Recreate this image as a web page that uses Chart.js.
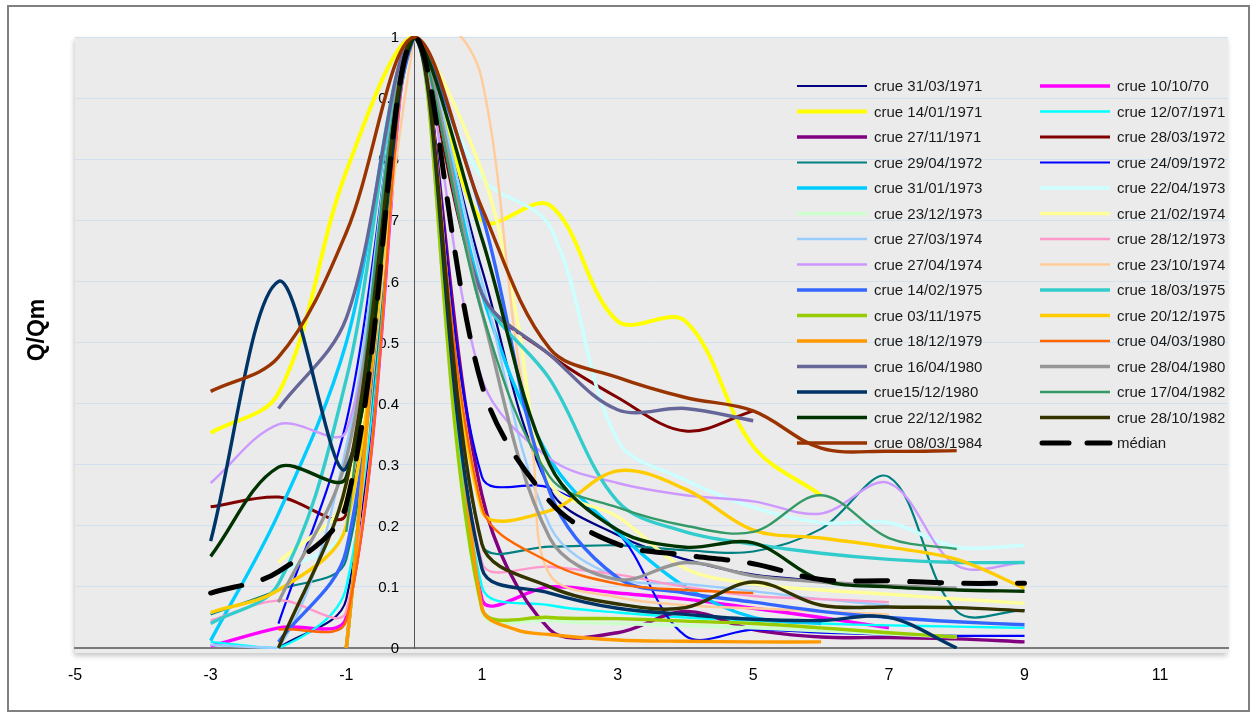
<!DOCTYPE html>
<html>
<head>
<meta charset="utf-8">
<title>Q/Qm</title>
<script src="https://cdn.jsdelivr.net/npm/chart.js@4.4.1/dist/chart.umd.min.js"></script>
<style>
  html, body { margin: 0; padding: 0; background: #ffffff; }
  #wrap { width: 1257px; height: 718px; position: relative; }
  canvas { display: block; }
</style>
</head>
<body>
<div id="wrap"><canvas id="chart" width="1257" height="718"></canvas></div>
<script>
// Axis ticks
const xTicks = [-5, -3, -1, 1, 3, 5, 7, 9, 11];
const xTickLabels = ['-5', '-3', '-1', '1', '3', '5', '7', '9', '11'];
const yTicks = [0, 0.1, 0.2, 0.3, 0.4, 0.5, 0.6, 0.7, 0.8, 0.9, 1];
const yTickLabels = ['0', '0.1', '0.2', '0.3', '0.4', '0.5', '0.6', '0.7', '0.8', '0.9', '1'];

// Flood hydrographs, Q/Qm against time from the peak: [t, Q/Qm]
const crue_1971_03_31 = [[-2,0],[-1,0.08],[0,1],[1,0.62],[2,0.26],[3,0.185],[4,0.145],[5,0.12],[6,0.11]];
const crue_1970_10_10 = [[-3,0.003],[-2,0.033],[-1,0.05],[0,1],[1,0.08],[2,0.1],[3,0.09],[4,0.08],[5,0.065],[6,0.05],[7,0.033]];
const crue_1971_01_14 = [[-3,0.352],[-2,0.417],[-1,0.78],[0,1],[1,0.70],[2,0.725],[3,0.535],[4,0.535],[5,0.33],[6,0.25]];
const crue_1971_07_12 = [[-3,0.01],[-2,0.0],[-1,0.1],[0,1],[1,0.1],[2,0.07],[3,0.058],[4,0.05],[5,0.045],[6,0.04],[7,0.037],[8,0.035],[9,0.033]];
const crue_1971_11_27 = [[-1,0],[0,1],[1,0.25],[2,0.03],[3,0.025],[4,0.06],[5,0.03],[6,0.018],[7,0.017],[8,0.015],[9,0.01]];
const crue_1972_03_28 = [[-3,0.231],[-2,0.247],[-1,0.22],[0,1],[1,0.58],[2,0.48],[3,0.41],[4,0.355],[5,0.388]];
const crue_1972_04_29 = [[-3,0.055],[-2,0.095],[-1,0.145],[0,1],[1,0.17],[2,0.166],[3,0.168],[4,0.16],[5,0.158],[6,0.195],[7,0.28],[8,0.06],[9,0.062]];
const crue_1972_09_24 = [[-2,0.04],[-1,0.37],[0,1],[1,0.28],[2,0.262],[3,0.19],[4,0.02],[5,0.03],[6,0.025],[7,0.022],[8,0.02],[9,0.02]];
const crue_1973_01_31 = [[-3,0.012],[-2,0.22],[-1,0.5],[0,1],[1,0.58],[2,0.31],[3,0.19],[4,0.1],[5,0.05],[6,0.04]];
const crue_1973_04_22 = [[-2,0.12],[-1,0.2],[0,1],[1,0.77],[2,0.69],[3,0.34],[4,0.275],[5,0.23],[6,0.205],[7,0.205],[8,0.165],[9,0.168]];
const crue_1973_12_23 = [[-1,0],[0,1],[1,0.06],[2,0.045],[3,0.04],[4,0.037],[5,0.033],[6,0.028],[7,0.023],[8,0.018]];
const crue_1974_02_21 = [[-2,0.14],[-1,0.25],[0,1],[1,0.78],[1.5,0.55],[2,0.27],[3,0.215],[4,0.13],[5,0.105],[6,0.095],[7,0.088],[8,0.08],[9,0.073]];
const crue_1974_03_27 = [[-3,0.005],[-2,0.0],[-1,0.33],[0,1],[1,0.6],[2,0.2],[3,0.115],[4,0.105],[5,0.093],[6,0.08],[7,0.07]];
const crue_1973_12_28 = [[-3,0.045],[-2,0.078],[-1,0.06],[0,1],[1,0.14],[2,0.133],[3,0.12],[4,0.1],[5,0.085],[6,0.08],[7,0.075]];
const crue_1974_04_27 = [[-3,0.27],[-2,0.366],[-1,0.355],[0,1],[1,0.44],[2,0.31],[3,0.27],[4,0.25],[5,0.24],[6,0.22],[7,0.27],[8,0.135],[9,0.14]];
const crue_1974_10_23 = [[-1,0],[0,1],[0.5,1.02],[1,0.93],[1.5,0.5],[1.75,0.32],[2,0.12],[3,0.083],[4,0.07],[5,0.065],[6,0.06],[7,0.055]];
const crue_1975_02_14 = [[-2,0.01],[-1,0.16],[0,1],[1,0.71],[2,0.255],[3,0.115],[4,0.09],[5,0.075],[6,0.06],[7,0.05],[8,0.043],[9,0.038]];
const crue_1975_03_18 = [[-3,0.04],[-2,0.105],[-1,0.44],[0,1],[1,0.58],[2,0.44],[3,0.24],[4,0.19],[5,0.17],[6,0.155],[7,0.145],[8,0.14],[9,0.14]];
const crue_1975_11_03 = [[-1,0],[0,1],[1,0.065],[2,0.05],[3,0.048],[4,0.044],[5,0.04],[6,0.033],[7,0.025],[8,0.018]];
const crue_1975_12_20 = [[-3,0.058],[-2,0.095],[-1,0.2],[0,1],[1,0.225],[2,0.225],[3,0.29],[4,0.26],[5,0.193],[6,0.18],[7,0.165],[8,0.145],[9,0.098]];
const crue_1979_12_18 = [[-1,0],[0,1],[1,0.065],[1.5,0.03],[2,0.022],[3,0.013],[4,0.011],[5,0.01],[6,0.01]];
const crue_1980_03_04 = [[-2,0.03],[-1,0.045],[0,1],[1,0.23],[2,0.14],[3,0.105],[4,0.095],[5,0.09]];
const crue_1980_04_16 = [[-2,0.392],[-1,0.54],[0,1],[1,0.58],[2,0.48],[3,0.39],[4,0.392],[5,0.372]];
const crue_1980_04_28 = [[-2,0.075],[-1,0.31],[0,1],[1,0.55],[2,0.18],[3,0.112],[4,0.14],[5,0.118],[6,0.108],[7,0.102],[8,0.098]];
const crue_1980_12_15 = [[-3,0.175],[-2,0.6],[-1,0.295],[0,1],[1,0.13],[2,0.09],[3,0.065],[4,0.055],[5,0.047],[6,0.045],[7,0.05],[8,0]];
const crue_1982_04_17 = [[-1,0.19],[0,1],[1,0.55],[2,0.28],[3,0.23],[4,0.2],[5,0.19],[6,0.25],[7,0.18],[8,0.162]];
const crue_1982_12_22 = [[-3,0.15],[-2,0.296],[-1,0.28],[0,1],[1,0.67],[2,0.3],[3,0.193],[4,0.165],[5,0.172],[6,0.111],[7,0.1],[8,0.095],[9,0.093]];
const crue_1982_10_28 = [[-2,0],[-1,0.27],[0,1],[1,0.17],[2,0.1],[3,0.072],[4,0.066],[5,0.108],[6,0.07],[7,0.067],[8,0.066],[9,0.061]];
const crue_1984_03_08 = [[-3,0.42],[-2,0.476],[-1,0.68],[0,1],[1,0.72],[2,0.49],[3,0.443],[4,0.41],[5,0.388],[6,0.327],[7,0.322],[8,0.323]];
const median = [[-3,0.09],[-2,0.125],[-1,0.235],[0,1],[1,0.43],[2,0.24],[3,0.17],[4,0.152],[5,0.138],[6,0.112],[7,0.11],[8,0.106],[9,0.106]];

const seriesLabels = [
  'crue 31/03/1971', 'crue 10/10/70',
  'crue 14/01/1971', 'crue 12/07/1971',
  'crue 27/11/1971', 'crue 28/03/1972',
  'crue 29/04/1972', 'crue 24/09/1972',
  'crue 31/01/1973', 'crue 22/04/1973',
  'crue 23/12/1973', 'crue 21/02/1974',
  'crue 27/03/1974', 'crue 28/12/1973',
  'crue 27/04/1974', 'crue 23/10/1974',
  'crue 14/02/1975', 'crue 18/03/1975',
  'crue 03/11/1975', 'crue 20/12/1975',
  'crue 18/12/1979', 'crue 04/03/1980',
  'crue 16/04/1980', 'crue 28/04/1980',
  'crue15/12/1980', 'crue 17/04/1982',
  'crue 22/12/1982', 'crue 28/10/1982',
  'crue 08/03/1984', 'médian'
];
const seriesData = [
  crue_1971_03_31, crue_1970_10_10,
  crue_1971_01_14, crue_1971_07_12,
  crue_1971_11_27, crue_1972_03_28,
  crue_1972_04_29, crue_1972_09_24,
  crue_1973_01_31, crue_1973_04_22,
  crue_1973_12_23, crue_1974_02_21,
  crue_1974_03_27, crue_1973_12_28,
  crue_1974_04_27, crue_1974_10_23,
  crue_1975_02_14, crue_1975_03_18,
  crue_1975_11_03, crue_1975_12_20,
  crue_1979_12_18, crue_1980_03_04,
  crue_1980_04_16, crue_1980_04_28,
  crue_1980_12_15, crue_1982_04_17,
  crue_1982_12_22, crue_1982_10_28,
  crue_1984_03_08, median
];

// Line styles
const seriesColors = [
  '#000080', '#ff00ff',
  '#ffff00', '#00ffff',
  '#800080', '#800000',
  '#008080', '#0000ff',
  '#00ccff', '#ccffff',
  '#ccffcc', '#ffff99',
  '#99ccff', '#ff99cc',
  '#cc99ff', '#ffcc99',
  '#3366ff', '#33cccc',
  '#99cc00', '#ffcc00',
  '#ff9900', '#ff6600',
  '#666699', '#969696',
  '#003366', '#339966',
  '#003300', '#333300',
  '#993300', '#000000'
];
const seriesWidths = [
  2.2, 3.4,
  4.0, 2.4,
  3.4, 3.0,
  2.2, 2.2,
  3.4, 3.4,
  3.4, 3.4,
  2.4, 2.4,
  2.4, 2.4,
  3.4, 3.4,
  3.4, 3.4,
  3.4, 2.4,
  3.4, 3.4,
  3.4, 2.4,
  3.4, 3.4,
  3.4, 5.0
];

const FONT = '"Liberation Sans", Arial, sans-serif';

const datasets = seriesData.map((pts, i) => ({
  label: seriesLabels[i],
  data: pts.map(p => ({ x: p[0], y: p[1] })),
  borderColor: seriesColors[i],
  backgroundColor: seriesColors[i],
  borderWidth: seriesWidths[i],
  borderDash: seriesLabels[i] === 'médian' ? [32, 22] : [],
  borderCapStyle: seriesLabels[i] === 'médian' ? 'round' : 'butt',
  borderJoinStyle: 'round',
  showLine: true,
  fill: false,
  pointRadius: 0,
  tension: 0.35,
  order: seriesData.length - i,
  clip: 1
}));

// Page frame, shaded plot area and vertical title
const framePlugin = {
  id: 'framePlugin',
  beforeDraw(chart) {
    const { ctx, chartArea: a } = chart;
    ctx.save();
    ctx.fillStyle = '#ffffff';
    ctx.fillRect(0, 0, chart.width, chart.height);
    ctx.strokeStyle = '#808080';
    ctx.lineWidth = 2;
    ctx.strokeRect(8, 6, 1241, 705);
    ctx.shadowColor = 'rgba(0,0,0,0.22)';
    ctx.shadowBlur = 5;
    ctx.shadowOffsetX = -1;
    ctx.shadowOffsetY = 3;
    ctx.fillStyle = '#ebebeb';
    ctx.fillRect(a.left, a.top, a.right - a.left, a.bottom - a.top + 5);
    ctx.restore();

    ctx.save();
    ctx.translate(38, 330);
    ctx.rotate(-Math.PI / 2);
    ctx.font = 'bold 23px ' + FONT;
    ctx.fillStyle = '#000000';
    ctx.textAlign = 'center';
    ctx.textBaseline = 'middle';
    ctx.fillText('Q/Qm', 0, 0);
    ctx.restore();
  }
};

// Y tick labels beside the vertical axis at t = 0, and the two-column legend,
// both drawn beneath the curves
const legendCols = [797, 1040];
const legendTop = 86;
const legendStep = 25.5;
const underlayPlugin = {
  id: 'underlayPlugin',
  beforeDatasetsDraw(chart) {
    const ctx = chart.ctx;
    const xs = chart.scales.x, ys = chart.scales.y;
    const axisX = xs.getPixelForValue(0);
    ctx.save();
    ctx.fillStyle = '#000000';
    ctx.font = '15px ' + FONT;
    ctx.textAlign = 'right';
    ctx.textBaseline = 'middle';
    yTicks.forEach((v, k) => {
      ctx.fillText(yTickLabels[k], axisX - 15, ys.getPixelForValue(v) + 1);
    });
    ctx.restore();

    chart.data.datasets.forEach((ds, i) => {
      const x0 = legendCols[i % 2];
      const y = legendTop + Math.floor(i / 2) * legendStep;
      const dashed = ds.borderDash.length > 0;
      ctx.save();
      ctx.strokeStyle = ds.borderColor;
      ctx.lineWidth = ds.borderWidth;
      ctx.lineCap = dashed ? 'round' : 'butt';
      ctx.setLineDash(dashed ? [27, 18] : []);
      ctx.beginPath();
      ctx.moveTo(x0 + (dashed ? 2 : 0), y);
      ctx.lineTo(x0 + 70, y);
      ctx.stroke();
      ctx.setLineDash([]);
      ctx.fillStyle = '#1a1a1a';
      ctx.font = '15px ' + FONT;
      ctx.textAlign = 'left';
      ctx.textBaseline = 'middle';
      ctx.fillText(ds.label, x0 + 77, y + 1);
      ctx.restore();
    });
  }
};

new Chart(document.getElementById('chart'), {
  type: 'scatter',
  data: { datasets },
  plugins: [framePlugin, underlayPlugin],
  options: {
    responsive: false,
    animation: false,
    events: [],
    devicePixelRatio: 1,
    layout: { padding: { left: 75, top: 37, right: 29, bottom: 70 } },
    plugins: {
      legend: { display: false },
      tooltip: { enabled: false },
      title: { display: false }
    },
    scales: {
      x: {
        type: 'linear',
        min: -5,
        max: 12,
        position: { y: 0 },
        afterBuildTicks: s => { s.ticks = xTicks.map(v => ({ value: v })); },
        ticks: {
          autoSkip: false,
          maxRotation: 0,
          padding: 18,
          color: '#000000',
          font: { family: FONT, size: 16 },
          callback: (v) => xTickLabels[xTicks.indexOf(v)]
        },
        grid: { display: false, drawTicks: false },
        border: { display: true, color: '#7a7a7a', width: 2 }
      },
      y: {
        type: 'linear',
        min: 0,
        max: 1,
        position: { x: 0 },
        afterBuildTicks: s => { s.ticks = yTicks.map(v => ({ value: v })); },
        ticks: { display: false },
        grid: { color: '#d2e1ef', lineWidth: 1, drawTicks: false },
        border: { display: true, color: '#555555', width: 1 }
      }
    }
  }
});
</script>
</body>
</html>
